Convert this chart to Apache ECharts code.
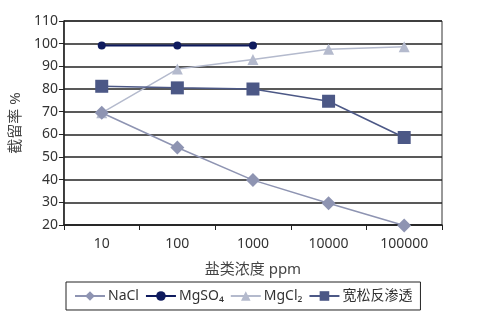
<!DOCTYPE html>
<html><head><meta charset="utf-8">
<script src="https://cdn.jsdelivr.net/npm/echarts@6/dist/echarts.min.js"></script>
<style>html,body{margin:0;padding:0;background:#fff}#c{width:487px;height:324px}</style>
</head><body><div id="c"></div>
<script>
const categories = ['10','100','1000','10000','100000'];
const nacl = [69.5, 54.2, 39.8, 29.6, 19.8];
const mgso4 = [99.2, 99.2, 99.2];
const mgcl2 = [69.5, 88.8, 93.0, 97.5, 98.6];
const broad = [81.2, 80.5, 80.0, 74.6, 58.6];
const yMin = 20, yMax = 110, yStep = 10;
const F = '"Noto Sans","Noto Sans CJK SC",sans-serif';
const chart = echarts.init(document.getElementById('c'));
chart.setOption({
  animation:false,
  grid:{left:62,right:45,top:21,bottom:99,show:true,borderColor:'#333',borderWidth:1},
  xAxis:{type:'category',data:categories,boundaryGap:true,
    name:'盐类浓度 ppm',nameLocation:'middle',nameGap:37,
    nameTextStyle:{fontFamily:F,fontSize:15,color:'#444'},
    axisLine:{lineStyle:{color:'#222',width:1.5}},
    axisTick:{show:true,length:5,lineStyle:{color:'#222'}},
    axisLabel:{fontFamily:F,fontSize:14,color:'#333',margin:12}},
  yAxis:{type:'value',min:yMin,max:yMax,interval:yStep,
    name:'截留率 %',nameLocation:'middle',nameGap:40,nameRotate:90,
    nameTextStyle:{fontFamily:F,fontSize:15,color:'#444'},
    axisLine:{show:true,lineStyle:{color:'#222',width:1.5}},
    axisTick:{show:true,length:5,lineStyle:{color:'#222'}},
    splitLine:{lineStyle:{color:'#222',width:1.5}},
    axisLabel:{fontFamily:F,fontSize:14,color:'#333',margin:6}},
  legend:{left:66,top:282,itemWidth:30,itemHeight:12,itemGap:6,
    borderColor:'#222',borderWidth:1,padding:[7,8,7,8],
    textStyle:{fontFamily:F,fontSize:14,color:'#333',padding:[0,0,0,-2]},
    data:['NaCl','MgSO₄','MgCl₂','宽松反渗透']},
  series:[
    {name:'NaCl',type:'line',data:nacl,symbol:'diamond',symbolSize:14,z:5,clip:false,
      lineStyle:{color:'#8e94b2',width:1.5},itemStyle:{color:'#8e94b2'}},
    {name:'MgSO₄',type:'line',data:mgso4,symbol:'circle',symbolSize:8,z:4,clip:false,
      lineStyle:{color:'#0f1b5e',width:2},itemStyle:{color:'#0f1b5e'}},
    {name:'MgCl₂',type:'line',data:mgcl2,symbol:'triangle',symbolSize:11,z:2,clip:false,
      lineStyle:{color:'#b4bacd',width:1.5},itemStyle:{color:'#b4bacd'}},
    {name:'宽松反渗透',type:'line',data:broad,symbol:'rect',symbolSize:13,z:3,clip:false,
      lineStyle:{color:'#4c5886',width:1.5},itemStyle:{color:'#4c5886'}}
  ]
});
</script></body></html>
